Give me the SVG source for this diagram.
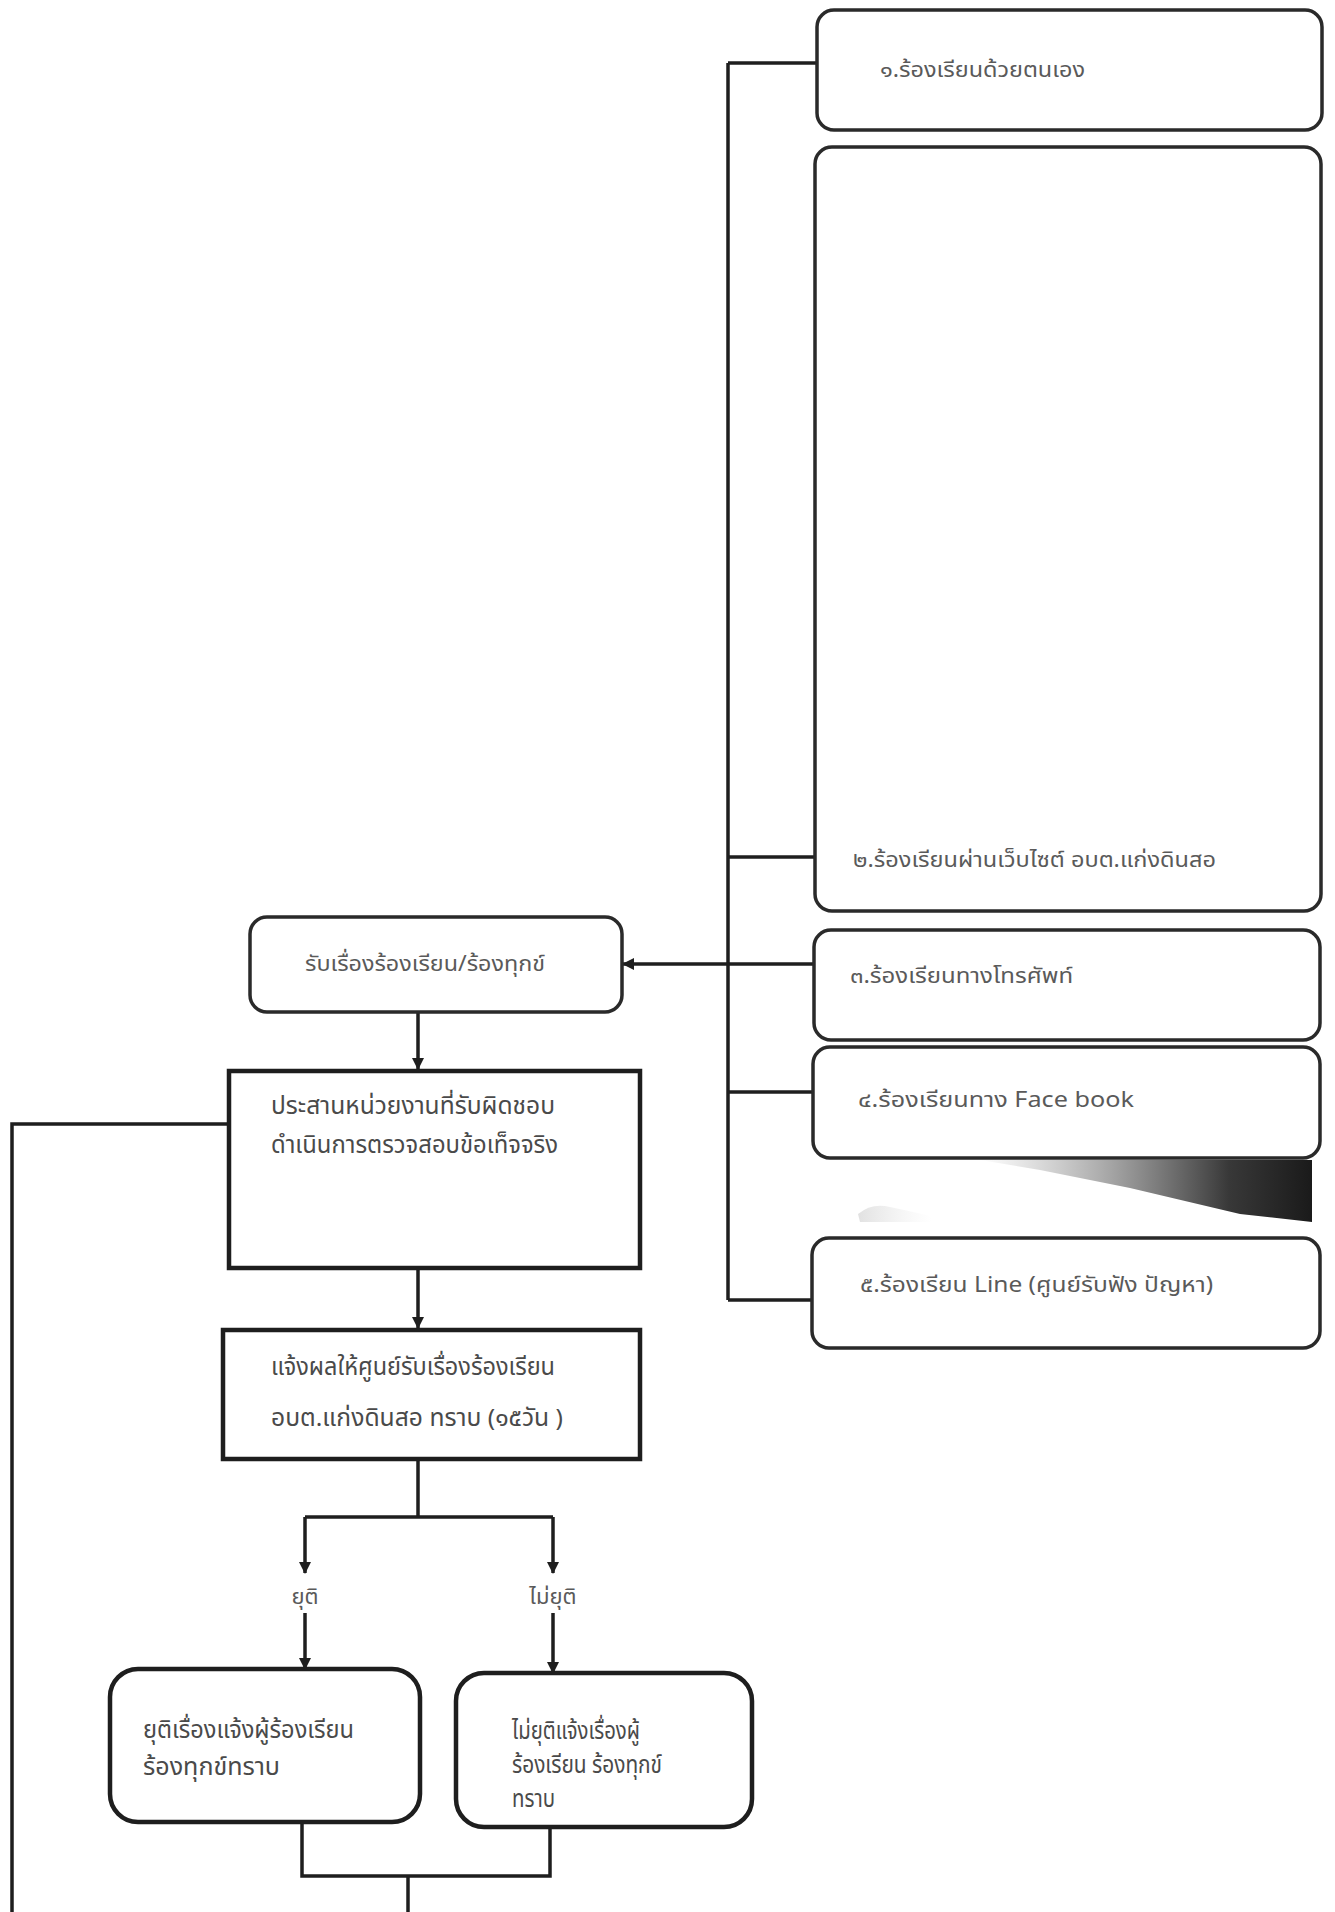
<svg xmlns="http://www.w3.org/2000/svg" width="1335" height="1912" viewBox="0 0 1335 1912">
<style>
.rbox{fill:#fff;stroke:#2a2a2a;stroke-width:3.5}
.sbox{fill:#fff;stroke:#1e1e1e;stroke-width:4.5}
.ln{fill:none;stroke:#1e1e1e;stroke-width:3.5}
.t{font-family:"Noto Sans Thai","Noto Sans","DejaVu Sans",sans-serif;fill:#5a5a5a;font-size:22px}
.tl{font-family:"Noto Sans Thai","Noto Sans","DejaVu Sans",sans-serif;fill:#4a4a4a;font-size:24px}
</style>
<defs>
<marker id="ah" viewBox="0 0 12 12" refX="11" refY="6" markerWidth="12" markerHeight="12" markerUnits="userSpaceOnUse" orient="auto">
<path d="M0,0 L12,6 L0,12 Z" fill="#1e1e1e"/>
</marker>
<linearGradient id="smudge" x1="0" y1="0" x2="1" y2="0">
<stop offset="0" stop-color="#555" stop-opacity="0"/>
<stop offset="0.4" stop-color="#333" stop-opacity="0.45"/>
<stop offset="0.75" stop-color="#222" stop-opacity="0.9"/>
<stop offset="1" stop-color="#1a1a1a" stop-opacity="1"/>
</linearGradient>
<linearGradient id="tuft" x1="0" y1="0" x2="1" y2="0">
<stop offset="0" stop-color="#aaa" stop-opacity="0.35"/>
<stop offset="1" stop-color="#ccc" stop-opacity="0"/>
</linearGradient>
</defs>
<rect width="1335" height="1912" fill="#fff"/>

<path d="M980,1160 L1312,1160 L1312,1222 L1240,1214 L1130,1188 L1040,1170 Z" fill="url(#smudge)"/>
<path d="M858,1214 Q870,1204 885,1206 Q905,1210 930,1216 L932,1222 L860,1222 Z" fill="url(#tuft)"/>

<g id="connectors">
<path class="ln" d="M728,63 V1300"/>
<path class="ln" d="M728,63 H817"/>
<path class="ln" d="M728,857 H814"/>
<path class="ln" d="M814,964 H623" marker-end="url(#ah)"/>
<path class="ln" d="M728,1092 H813"/>
<path class="ln" d="M728,1300 H812"/>
<path class="ln" d="M418,1012 V1069" marker-end="url(#ah)"/>
<path class="ln" d="M228,1124 H12 V1912"/>
<path class="ln" d="M418,1268 V1328" marker-end="url(#ah)"/>
<path class="ln" d="M418,1459 V1517"/>
<path class="ln" d="M305,1517 H553"/>
<path class="ln" d="M305,1517 V1573" marker-end="url(#ah)"/>
<path class="ln" d="M553,1517 V1573" marker-end="url(#ah)"/>
<path class="ln" d="M305,1613 V1669" marker-end="url(#ah)"/>
<path class="ln" d="M553,1613 V1673" marker-end="url(#ah)"/>
<path class="ln" d="M302,1822 V1876 H550 V1827"/>
<path class="ln" d="M408,1876 V1912"/>
</g>

<g id="n1">
<rect class="rbox" x="817" y="10" width="505" height="120" rx="17"/>
<text class="t" x="880" y="77" textLength="205" lengthAdjust="spacingAndGlyphs">๑.ร้องเรียนด้วยตนเอง</text>
</g>
<g id="n2">
<rect class="rbox" x="815" y="147" width="506" height="764" rx="17"/>
<text class="t" x="853" y="867" textLength="363" lengthAdjust="spacingAndGlyphs">๒.ร้องเรียนผ่านเว็บไซต์ อบต.แก่งดินสอ</text>
</g>
<g id="n3">
<rect class="rbox" x="814" y="930" width="506" height="110" rx="17"/>
<text class="t" x="850" y="983" textLength="223" lengthAdjust="spacingAndGlyphs">๓.ร้องเรียนทางโทรศัพท์</text>
</g>
<g id="n4">
<rect class="rbox" x="813" y="1047" width="507" height="111" rx="17"/>
<text class="t" x="858" y="1107" textLength="276" lengthAdjust="spacingAndGlyphs">๔.ร้องเรียนทาง Face book</text>
</g>
<g id="n5">
<rect class="rbox" x="812" y="1238" width="508" height="110" rx="17"/>
<text class="t" x="860" y="1292" textLength="353" lengthAdjust="spacingAndGlyphs">๕.ร้องเรียน Line (ศูนย์รับฟัง ปัญหา)</text>
</g>

<g id="receive">
<rect class="rbox" x="250" y="917" width="372" height="95" rx="17"/>
<text class="t" x="305" y="971" textLength="240" lengthAdjust="spacingAndGlyphs">รับเรื่องร้องเรียน/ร้องทุกข์</text>
</g>
<g id="coordinate">
<rect class="sbox" x="229" y="1071" width="411" height="197"/>
<text class="tl" x="271" y="1114" textLength="284" lengthAdjust="spacingAndGlyphs">ประสานหน่วยงานที่รับผิดชอบ</text>
<text class="tl" x="271" y="1153" textLength="287" lengthAdjust="spacingAndGlyphs">ดำเนินการตรวจสอบข้อเท็จจริง</text>
</g>
<g id="report">
<rect class="sbox" x="223" y="1330" width="417" height="129"/>
<text class="tl" x="271" y="1375" textLength="284" lengthAdjust="spacingAndGlyphs">แจ้งผลให้ศูนย์รับเรื่องร้องเรียน</text>
<text class="tl" x="271" y="1426" textLength="292" lengthAdjust="spacingAndGlyphs">อบต.แก่งดินสอ ทราบ (๑๕วัน )</text>
</g>

<g id="labels">
<text class="t" x="305" y="1604" text-anchor="middle" font-size="18">ยุติ</text>
<text class="t" x="553" y="1604" text-anchor="middle" font-size="18">ไม่ยุติ</text>
</g>

<g id="end">
<rect class="sbox" x="110" y="1669" width="310" height="153" rx="28"/>
<text class="tl" x="143" y="1738" textLength="211" lengthAdjust="spacingAndGlyphs">ยุติเรื่องแจ้งผู้ร้องเรียน</text>
<text class="tl" x="143" y="1775" textLength="137" lengthAdjust="spacingAndGlyphs">ร้องทุกข์ทราบ</text>
</g>
<g id="notend">
<rect class="sbox" x="456" y="1673" width="296" height="154" rx="28"/>
<text class="tl" x="512" y="1739" textLength="128" lengthAdjust="spacingAndGlyphs">ไม่ยุติแจ้งเรื่องผู้</text>
<text class="tl" x="512" y="1773" textLength="150" lengthAdjust="spacingAndGlyphs">ร้องเรียน ร้องทุกข์</text>
<text class="tl" x="512" y="1807" textLength="43" lengthAdjust="spacingAndGlyphs">ทราบ</text>
</g>
</svg>
